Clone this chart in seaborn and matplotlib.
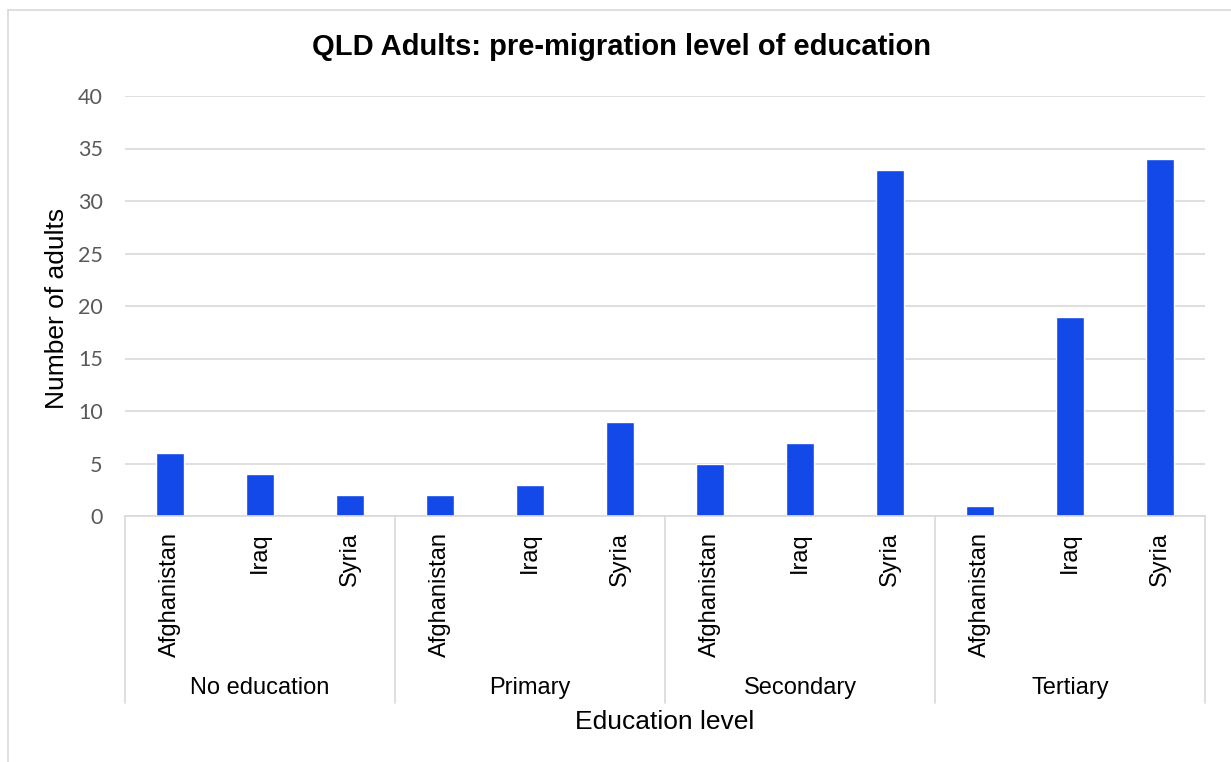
import numpy as np
import pandas as pd
import seaborn as sns
import matplotlib
matplotlib.use("Agg")
from matplotlib import pyplot as plt
from matplotlib.lines import Line2D
import matplotlib.transforms as mtransforms

# data
levels = ["No education", "Primary", "Secondary", "Tertiary"]
countries = ["Afghanistan", "Iraq", "Syria"]
no_education = [6, 4, 2]
primary = [2, 3, 9]
secondary = [5, 7, 33]
tertiary = [1, 19, 34]
y_ticks = [0, 5, 10, 15, 20, 25, 30, 35, 40]

sns.set_theme(style="white", rc={"text.color": "black"})
plt.rcParams["font.family"] = ["Liberation Sans", "DejaVu Sans"]

rows = []
for lvl, vals in zip(levels, [no_education, primary, secondary, tertiary]):
    for c, v in zip(countries, vals):
        rows.append({"level": lvl, "country": c, "slot": lvl + "|" + c, "adults": v})
df = pd.DataFrame(rows)

W, H = 1231, 762
fig = plt.figure(figsize=(W / 100, H / 100), dpi=100)
fig.patch.set_facecolor("white")
ax = fig.add_axes([125 / W, 1 - 516 / H, 1080 / W, 420 / H])

sns.barplot(data=df, x="slot", y="adults", color="#1249E8", saturation=1,
            width=0.31, ax=ax)

ax.set_ylim(0, 40)
ax.set_xlim(-0.5, len(df) - 0.5)
ax.set_yticks(y_ticks)
ax.set_yticklabels([str(t) for t in y_ticks], family=["Lato", "DejaVu Sans"])
ax.yaxis.grid(True, color="#D9D9D9", lw=1.2)
ax.set_axisbelow(True)
ax.tick_params(axis="x", length=0, labelbottom=False)
ax.tick_params(axis="y", length=0, pad=16, labelsize=15.5, labelcolor="#595959")
ax.set_xlabel("")
ax.set_ylabel("")
for s in ["left", "top", "right"]:
    ax.spines[s].set_visible(False)
ax.spines["bottom"].set_color("#D9D9D9")
ax.spines["bottom"].set_linewidth(1.2)

# hierarchical category axis
trans = mtransforms.blended_transform_factory(ax.transData, ax.transAxes)
for i, row in df.iterrows():
    ax.text(i, -0.038, row["country"], rotation=90, ha="center", va="top",
            fontsize=17, color="black", transform=trans)
for g, lvl in enumerate(levels):
    ax.text(g * 3 + 1, -0.41, lvl, ha="center", va="center", fontsize=17,
            color="black", transform=trans)
for g in range(len(levels) + 1):
    ax.plot([g * 3 - 0.5, g * 3 - 0.5], [0, -0.445], transform=trans,
            clip_on=False, color="#D9D9D9", lw=1.2)

fig.text(621 / W, 1 - 47 / H, "QLD Adults: pre-migration level of education",
         ha="center", va="center", fontsize=21, fontweight="bold", color="black")
fig.text(57 / W, 1 - 308 / H, "Number of adults", rotation=90,
         ha="center", va="center", fontsize=19, color="black")
fig.text(665 / W, 1 - 722 / H, "Education level", ha="center", va="center",
         fontsize=19, color="black")

# chart frame (only top and left edges visible in the crop)
fx, fy = 7.5 / W, 1 - 9.5 / H
fig.add_artist(Line2D([fx, fx], [0, fy], color="#D9D9D9", lw=1.2))
fig.add_artist(Line2D([fx, 1], [fy, fy], color="#D9D9D9", lw=1.2))

fig.savefig("out.png", dpi=100)
